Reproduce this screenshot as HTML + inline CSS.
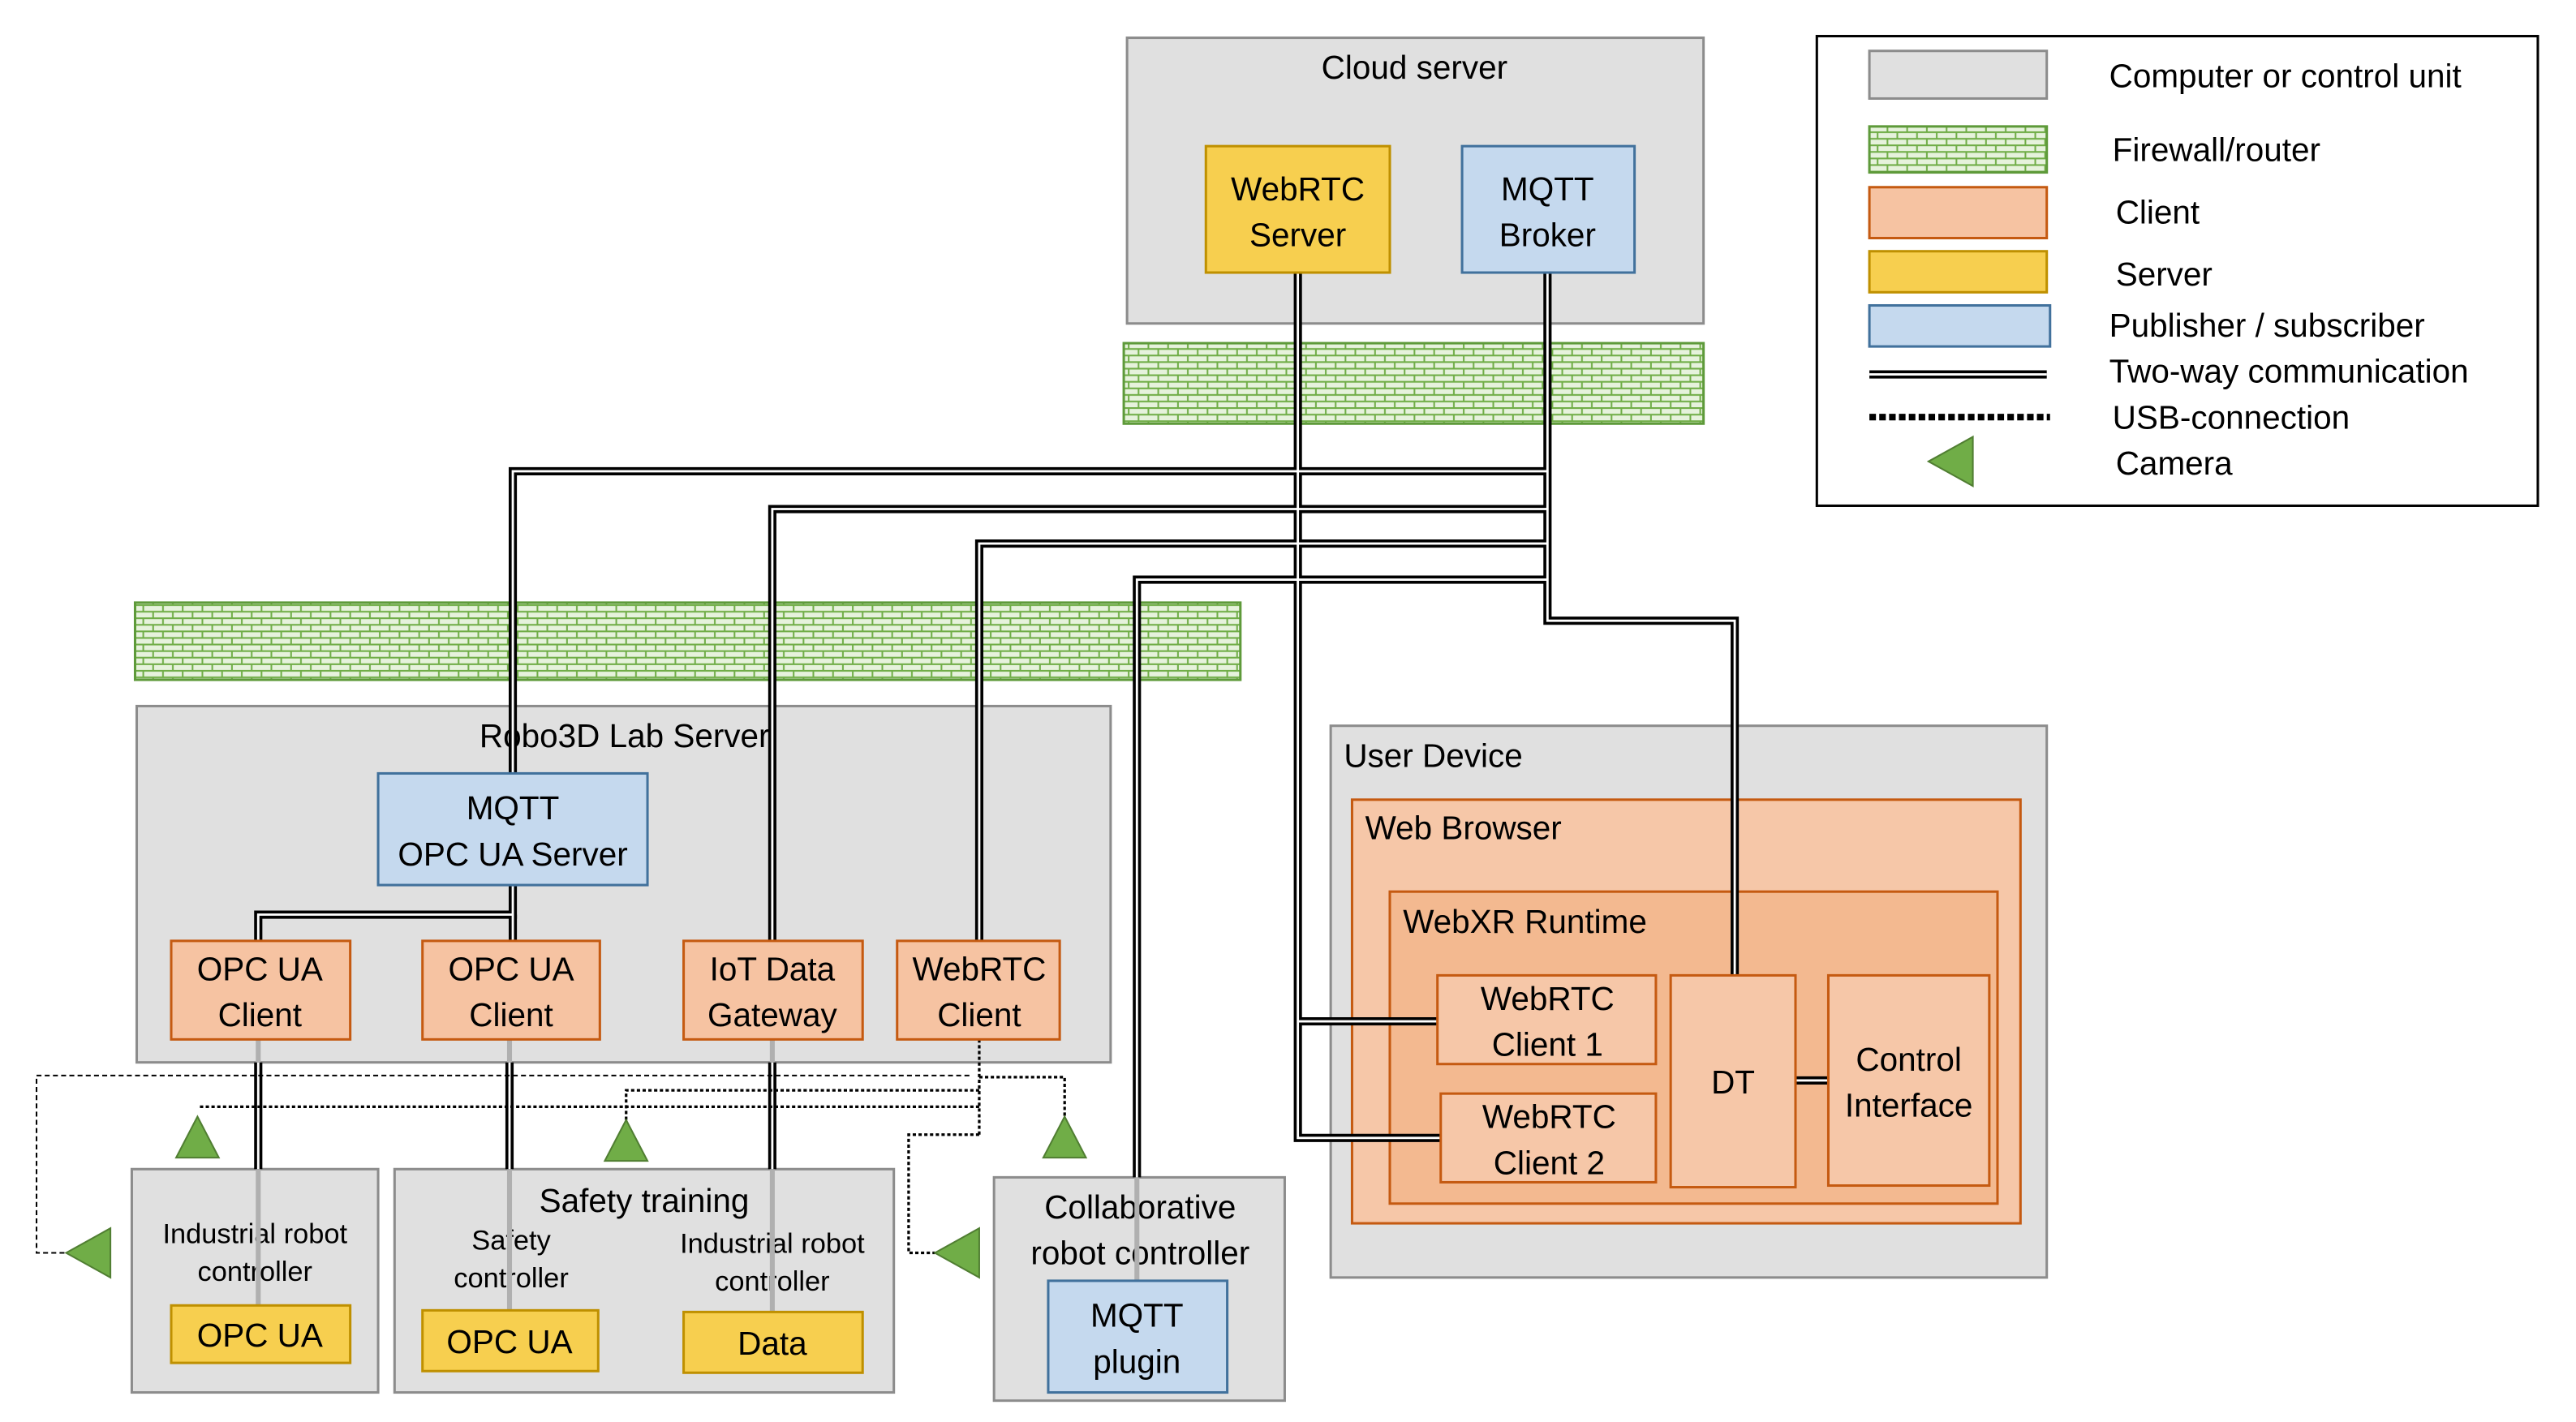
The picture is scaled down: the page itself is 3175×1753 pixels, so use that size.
<!DOCTYPE html>
<html><head><meta charset="utf-8"><style>
html,body{margin:0;padding:0;background:#fff;}
svg{display:block;}
text{font-family:"Liberation Sans Narrow","Liberation Sans",sans-serif;fill:#000;}
</style></head><body>
<svg width="3175" height="1753" viewBox="0 0 1568 866" xmlns="http://www.w3.org/2000/svg">
<defs>
<pattern id="fw" width="12" height="8" patternUnits="userSpaceOnUse">
<rect width="12" height="8" fill="#e6f2dc"/>
<path d="M0 0.5H12M0 4.5H12M3 0V4M9 4V8" stroke="#70ad47" stroke-width="1"/>
</pattern>
</defs>
<g font-size="20" text-anchor="middle">
<!-- Cloud server -->
<rect x="686" y="23" width="351" height="174" fill="#e0e0e0" stroke="#8c8c8c" stroke-width="1.5"/>
<text x="861" y="48">Cloud server</text>
<!-- firewalls -->
<rect x="684" y="209" width="353" height="49" fill="url(#fw)" stroke="#5e9a3a" stroke-width="1.5"/>
<rect x="82" y="367" width="673" height="47" fill="url(#fw)" stroke="#5e9a3a" stroke-width="1.5"/>
<!-- Robo3D lab server -->
<rect x="83" y="430" width="593" height="217" fill="#e0e0e0" stroke="#8c8c8c" stroke-width="1.5"/>
<text x="380" y="455">Robo3D Lab Server</text>
<!-- User device -->
<rect x="810" y="442" width="436" height="336" fill="#e0e0e0" stroke="#8c8c8c" stroke-width="1.5"/>
<text x="818" y="467" text-anchor="start">User Device</text>
<rect x="823" y="487" width="407" height="258" fill="#f6c7a8" stroke="#c55a11" stroke-width="1.5"/>
<text x="831" y="511" text-anchor="start">Web Browser</text>
<rect x="846" y="543" width="370" height="190" fill="#f3b990" stroke="#c55a11" stroke-width="1.5"/>
<text x="854" y="568" text-anchor="start">WebXR Runtime</text>
<!-- bottom boxes -->
<rect x="80" y="712" width="150" height="136" fill="#e0e0e0" stroke="#8c8c8c" stroke-width="1.5"/>
<rect x="240" y="712" width="304" height="136" fill="#e0e0e0" stroke="#8c8c8c" stroke-width="1.5"/>
<rect x="605" y="717" width="177" height="136" fill="#e0e0e0" stroke="#8c8c8c" stroke-width="1.5"/>
<text x="392" y="738">Safety training</text>
<text x="694" y="742">Collaborative</text>
<text x="694" y="770">robot controller</text>
<g font-size="17">
<text x="155" y="757">Industrial robot</text>
<text x="155" y="780">controller</text>
<text x="311" y="761">Safety</text>
<text x="311" y="784">controller</text>
<text x="470" y="763">Industrial robot</text>
<text x="470" y="786">controller</text>
</g>
<!-- gray internal lines -->
<g stroke="#b0b0b0" stroke-width="3" fill="none">
<path d="M157 633V795M310 633V798M470 633V799M692 717V780"/>
</g>
<!-- double lines -->
<g fill="none" stroke-linejoin="miter">
<g stroke="#000" stroke-width="5">
<path d="M790 166V693H877"/><path d="M790 622H875"/>
<path d="M942 166V378H1056V594"/>
<path d="M942 287H312V471"/>
<path d="M942 310H470V573"/>
<path d="M942 331H596V573"/>
<path d="M942 353H692V717"/>
<path d="M312 539V557H157V573"/><path d="M312 557V573"/>
<path d="M157 647V712M310 647V712M470 647V712"/>
<path d="M1093 658H1113"/>
</g>
<g stroke="#fff" stroke-width="1.4">
<path d="M790 166V693H877"/><path d="M790 622H875"/>
<path d="M942 166V378H1056V594"/>
<path d="M942 287H312V471"/>
<path d="M942 310H470V573"/>
<path d="M942 331H596V573"/>
<path d="M942 353H692V717"/>
<path d="M312 539V557H157V573"/><path d="M312 557V573"/>
<path d="M157 647V712M310 647V712M470 647V712"/>
<path d="M1093 658H1113"/>
</g>
</g>
<!-- dotted lines -->
<g fill="none" stroke="#000">
<path d="M590 655H22V763H40" stroke-width="1" stroke-dasharray="3,2"/>
<path d="M596 633V691M596 656H648V680M596 664H381V682M596 674H120M596 691H553V763H569" stroke-width="1.6" stroke-dasharray="2,1.5"/>
</g>
<!-- triangles -->
<g fill="#70ad47" stroke="#507e32" stroke-width="1">
<polygon points="120,680 107,705 133,705"/>
<polygon points="381,682 368,707 394,707"/>
<polygon points="648,680 635,705 661,705"/>
<polygon points="40,763 67,748 67,778"/>
<polygon points="569,763 596,748 596,778"/>
</g>
<!-- nodes -->
<g stroke-width="1.5">
<rect x="734" y="89" width="112" height="77" fill="#f7cf4f" stroke="#bf9000"/>
<rect x="890" y="89" width="105" height="77" fill="#c5d9ee" stroke="#41719c"/>
<rect x="230" y="471" width="164" height="68" fill="#c5d9ee" stroke="#41719c"/>
<rect x="104" y="573" width="109" height="60" fill="#f6c3a2" stroke="#c55a11"/>
<rect x="257" y="573" width="108" height="60" fill="#f6c3a2" stroke="#c55a11"/>
<rect x="416" y="573" width="109" height="60" fill="#f6c3a2" stroke="#c55a11"/>
<rect x="546" y="573" width="99" height="60" fill="#f6c3a2" stroke="#c55a11"/>
<rect x="875" y="594" width="133" height="54" fill="#f6c7a8" stroke="#c55a11"/>
<rect x="877" y="666" width="131" height="54" fill="#f6c7a8" stroke="#c55a11"/>
<rect x="1017" y="594" width="76" height="129" fill="#f6c7a8" stroke="#c55a11"/>
<rect x="1113" y="594" width="98" height="128" fill="#f6c7a8" stroke="#c55a11"/>
<rect x="104" y="795" width="109" height="35" fill="#f7cf4f" stroke="#bf9000"/>
<rect x="257" y="798" width="107" height="37" fill="#f7cf4f" stroke="#bf9000"/>
<rect x="416" y="799" width="109" height="37" fill="#f7cf4f" stroke="#bf9000"/>
<rect x="638" y="780" width="109" height="68" fill="#c5d9ee" stroke="#41719c"/>
</g>
<text x="790" y="122">WebRTC</text><text x="790" y="150">Server</text>
<text x="942" y="122">MQTT</text><text x="942" y="150">Broker</text>
<text x="312" y="499">MQTT</text><text x="312" y="527">OPC UA Server</text>
<text x="158" y="597">OPC UA</text><text x="158" y="625">Client</text>
<text x="311" y="597">OPC UA</text><text x="311" y="625">Client</text>
<text x="470" y="597">IoT Data</text><text x="470" y="625">Gateway</text>
<text x="596" y="597">WebRTC</text><text x="596" y="625">Client</text>
<text x="942" y="615">WebRTC</text><text x="942" y="643">Client 1</text>
<text x="943" y="687">WebRTC</text><text x="943" y="715">Client 2</text>
<text x="1055" y="666">DT</text>
<text x="1162" y="652">Control</text><text x="1162" y="680">Interface</text>
<text x="158" y="820">OPC UA</text>
<text x="310" y="824">OPC UA</text>
<text x="470" y="825">Data</text>
<text x="692" y="808">MQTT</text><text x="692" y="836">plugin</text>
<!-- legend -->
<rect x="1106" y="22" width="439" height="286" fill="#fff" stroke="#000" stroke-width="1.5"/>
<rect x="1138" y="31" width="108" height="29" fill="#e0e0e0" stroke="#8c8c8c" stroke-width="1.5"/>
<rect x="1138" y="77" width="108" height="28" fill="url(#fw)" stroke="#5e9a3a" stroke-width="1.5"/>
<rect x="1138" y="114" width="108" height="31" fill="#f6c3a2" stroke="#c55a11" stroke-width="1.5"/>
<rect x="1138" y="153" width="108" height="25" fill="#f7cf4f" stroke="#bf9000" stroke-width="1.5"/>
<rect x="1138" y="186" width="110" height="25" fill="#c5d9ee" stroke="#41719c" stroke-width="1.5"/>
<path d="M1138 228H1246" stroke="#000" stroke-width="5"/>
<path d="M1138 228H1246" stroke="#fff" stroke-width="1.4"/>
<path d="M1138 254H1248" stroke="#000" stroke-width="4" stroke-dasharray="4,2"/>
<polygon points="1174,281 1201,266 1201,296" fill="#70ad47" stroke="#507e32"/>
<g text-anchor="start">
<text x="1284" y="53">Computer or control unit</text>
<text x="1286" y="98">Firewall/router</text>
<text x="1288" y="136">Client</text>
<text x="1288" y="174">Server</text>
<text x="1284" y="205">Publisher / subscriber</text>
<text x="1284" y="233">Two-way communication</text>
<text x="1286" y="261">USB-connection</text>
<text x="1288" y="289">Camera</text>
</g>
</g>
</svg>
</body></html>
